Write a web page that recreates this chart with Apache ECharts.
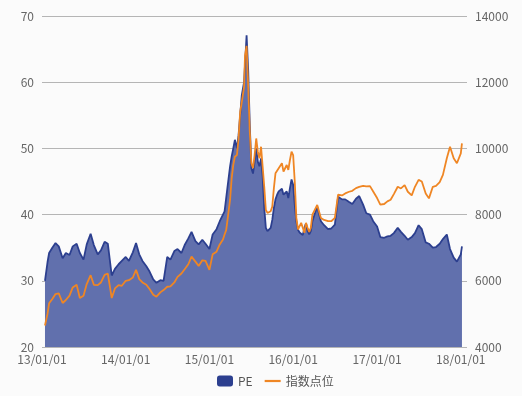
<!DOCTYPE html>
<html><head><meta charset="utf-8">
<script src="https://cdn.jsdelivr.net/npm/echarts@6/dist/echarts.min.js"></script>
<style>html,body{margin:0;padding:0;background:#fbfbfb}#c{width:522px;height:396px}</style>
</head><body><div id="c"></div>
<script>
const dates = [
'2013-01-14','2013-01-25','2013-02-01','2013-02-15','2013-03-01','2013-03-15','2013-04-01','2013-04-15','2013-05-01','2013-05-15',
'2013-06-01','2013-06-15','2013-07-01','2013-07-15','2013-08-01','2013-08-15','2013-09-01','2013-09-15','2013-10-01','2013-10-15',
'2013-11-01','2013-11-15','2013-12-01','2013-12-15','2014-01-01','2014-01-15','2014-02-01','2014-02-15','2014-03-01','2014-03-15',
'2014-04-01','2014-04-15','2014-05-01','2014-05-15','2014-06-01','2014-06-15','2014-07-01','2014-07-15','2014-08-01','2014-08-15',
'2014-09-01','2014-09-15','2014-10-01','2014-10-15','2014-11-01','2014-11-15','2014-12-01','2014-12-15','2015-01-01','2015-01-15',
'2015-02-01','2015-02-15',
'2015-03-01','2015-03-08','2015-03-15','2015-03-22','2015-04-01','2015-04-08','2015-04-15','2015-04-22','2015-05-01','2015-05-08',
'2015-05-15','2015-05-22','2015-06-01','2015-06-05','2015-06-12','2015-06-19','2015-06-26','2015-07-03','2015-07-10','2015-07-17',
'2015-07-24','2015-07-31','2015-08-07','2015-08-14','2015-08-21','2015-08-28','2015-09-04','2015-09-11','2015-09-18','2015-09-25',
'2015-10-02','2015-10-09','2015-10-16','2015-10-23','2015-10-30','2015-11-06','2015-11-13','2015-11-20','2015-11-27','2015-12-04',
'2015-12-11','2015-12-18','2015-12-25','2016-01-01','2016-01-08','2016-01-15','2016-01-22','2016-01-29','2016-02-05','2016-02-12',
'2016-02-19','2016-02-26','2016-03-04','2016-03-11','2016-03-18','2016-03-25','2016-04-01',
'2016-04-15','2016-05-01','2016-05-15','2016-06-01','2016-06-15','2016-07-01','2016-07-15','2016-08-01','2016-08-15','2016-09-01',
'2016-09-15','2016-10-01','2016-10-15','2016-11-01','2016-11-15','2016-12-01','2016-12-15','2017-01-01','2017-01-15','2017-02-01',
'2017-02-15','2017-03-01','2017-03-15','2017-04-01','2017-04-15','2017-05-01','2017-05-15','2017-06-01','2017-06-15','2017-07-01',
'2017-07-15','2017-08-01','2017-08-15','2017-09-01','2017-09-15','2017-10-01','2017-10-15','2017-11-01','2017-11-15','2017-12-01',
'2017-12-15','2018-01-01','2018-01-06'
];
const peValues = [
30.0,32.8,34.2,35.0,35.7,35.2,33.4,34.2,33.9,35.2,
35.6,34.2,33.2,35.5,37.1,35.4,34.0,34.6,35.9,35.6,
30.8,31.8,32.5,33.0,33.6,33.0,34.3,35.7,34.0,33.0,
32.2,31.4,30.2,29.7,30.1,30.0,33.6,33.2,34.5,34.8,
34.2,35.4,36.4,37.4,36.0,35.5,36.2,35.6,34.8,37.0,
37.8,39.0,
40.0,40.5,42.5,44.5,47.3,48.8,50.0,51.3,50.0,52.0,
55.0,58.0,60.0,62.5,67.1,61.8,53.5,47.0,46.2,48.0,
50.0,48.0,47.3,48.5,45.8,41.0,38.0,37.5,37.4,38.0,
39.2,41.0,42.3,43.0,43.5,43.2,43.9,43.0,43.2,43.5,
42.5,44.0,45.3,44.5,41.5,39.0,37.7,37.3,37.5,36.9,
38.0,38.7,37.5,37.0,37.5,39.0,39.8,
41.2,39.0,38.4,37.8,37.9,38.5,42.7,42.3,42.3,41.9,
41.6,42.4,42.8,41.5,40.2,40.0,39.0,38.2,36.6,36.5,
36.7,36.8,37.2,38.0,37.4,36.8,36.2,36.6,37.2,38.4,
37.8,35.8,35.6,35.0,35.1,35.6,36.3,37.0,34.8,33.5,
32.9,34.0,35.2
];
const indexValues = [
4650,5000,5320,5450,5600,5620,5330,5420,5550,5800,
5880,5480,5550,5900,6170,5880,5870,5950,6180,6220,
5480,5770,5870,5850,6000,6020,6100,6330,6050,5950,
5880,5750,5580,5520,5650,5720,5820,5830,5950,6120,
6220,6350,6500,6730,6580,6450,6620,6600,6330,6800,
6880,7100,
7250,7400,7530,7900,8450,9100,9500,9750,9800,10300,
11100,11400,11860,12800,13100,11860,10500,9550,9400,9800,
10300,9900,9700,10050,9450,8840,8140,8050,7990,8100,
8240,8800,9250,9300,9400,9350,9550,9300,9400,9500,
9350,9650,9900,9800,9000,7900,7550,7500,7750,7600,
7450,7750,7600,7480,7600,8000,8100,
8290,7900,7840,7800,7800,7900,8600,8580,8640,8690,
8720,8800,8840,8870,8850,8860,8700,8500,8300,8320,
8400,8450,8620,8840,8790,8890,8690,8580,8840,9050,
9000,8640,8490,8840,8870,8980,9200,9700,10050,9700,
9550,9850,10150
];
const seriesNames = ['PE','指数点位'];

const chart = echarts.init(document.getElementById('c'), null, {renderer:'canvas'});
const font = '"Noto Sans CJK SC","Noto Sans",sans-serif';
chart.setOption({
  backgroundColor:'#fbfbfb',
  animation:false,
  textStyle:{fontFamily:font},
  grid:{left:42,right:55,top:16,bottom:49,containLabel:false},
  legend:{
    bottom:4,left:212,itemWidth:16,itemHeight:11,itemGap:12,
    textStyle:{color:'#555',fontSize:12,fontFamily:font},
    data:[{name:seriesNames[0],icon:'roundRect'},
          {name:seriesNames[1],icon:'path://M0,0h16v2.2h-16z'}]
  },
  xAxis:{
    type:'time',
    min:'2013-01-01',max:'2018-01-28',
    splitNumber:5,
    axisLine:{show:false},
    axisTick:{show:false},
    splitLine:{show:false},
    axisLabel:{
      color:'#666',fontSize:12,margin:6,fontFamily:font,
      showMinLabel:true,showMaxLabel:true,
      formatter:function(v){
        const d=new Date(v);
        if(d.getMonth()!==0||d.getDate()!==1) return '';
        return String(d.getFullYear()).slice(2)+'/01/01';
      }
    }
  },
  yAxis:[
    {type:'value',min:20,max:70,interval:10,
     axisLine:{show:false},axisTick:{show:false},
     axisLabel:{color:'#666',fontSize:12,margin:8,fontFamily:font},
     splitLine:{lineStyle:{color:'#b5b5b5',width:1}}},
    {type:'value',min:4000,max:14000,interval:2000,position:'right',
     axisLine:{show:false},axisTick:{show:false},
     axisLabel:{color:'#666',fontSize:12,margin:8,fontFamily:font,
       formatter:function(v){return String(v);}},
     splitLine:{show:false}}
  ],
  series:[
    {name:seriesNames[0],type:'line',yAxisIndex:0,
     data:dates.map((d,i)=>[d,peValues[i]]),
     symbol:'none',
     itemStyle:{color:'#2c3f8f'},
     lineStyle:{color:'#2c3f8f',width:1.8},
     areaStyle:{color:'#6170ad',opacity:1,origin:'start'},
     z:2},
    {name:seriesNames[1],type:'line',yAxisIndex:1,
     data:dates.map((d,i)=>[d,indexValues[i]]),
     symbol:'none',
     itemStyle:{color:'#ef8624'},
     lineStyle:{color:'#ef8624',width:1.8},
     z:3}
  ]
});
</script>
</body></html>
